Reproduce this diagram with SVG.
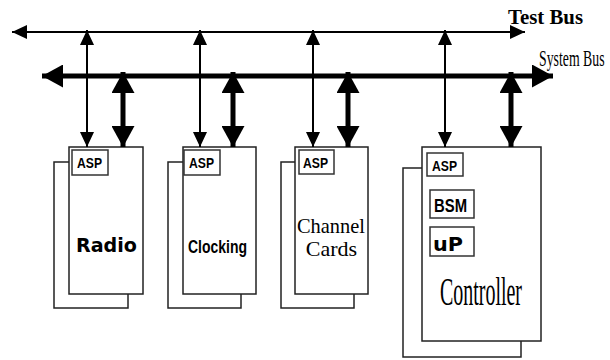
<svg xmlns="http://www.w3.org/2000/svg" width="610" height="360" viewBox="0 0 610 360">
<defs>
<marker id="thin" markerUnits="userSpaceOnUse" viewBox="0 0 15 14" refX="15" refY="7" markerWidth="15" markerHeight="14" orient="auto-start-reverse"><path d="M0,0 L15,7 L0,14 Z" fill="#000"/></marker>
<marker id="thick" markerUnits="userSpaceOnUse" viewBox="0 0 21 23" refX="21" refY="11.5" markerWidth="21" markerHeight="23" orient="auto-start-reverse"><path d="M0,0 L21,11.5 L0,23 Z" fill="#000"/></marker>
<style>
.card{fill:#fff;stroke:#222;stroke-width:1.5}
.box{fill:#fff;stroke:#333;stroke-width:1.5}
.tb{stroke:#000;stroke-width:2;fill:none}
.sb{stroke:#000;stroke-width:5;fill:none}
.asp{font-family:"Liberation Sans",Arial,sans-serif;font-weight:bold;font-size:14px;fill:#000}
.bsm{font-family:"Liberation Sans",Arial,sans-serif;font-weight:bold;font-size:18px;fill:#000}
.lbl{font-family:"DejaVu Sans",sans-serif;font-weight:bold;font-size:19px;fill:#000}
.serif{font-family:"Liberation Serif","Times New Roman",serif;fill:#000}
</style>
</defs>
<g id="buses">
<line class="tb" x1="12" y1="32" x2="525" y2="32" marker-start="url(#thin)" marker-end="url(#thin)"/>
<line class="sb" x1="42" y1="76" x2="553" y2="76" marker-start="url(#thick)" marker-end="url(#thick)"/>
<text class="serif" x="508" y="24" font-size="21" font-weight="bold" textLength="75" lengthAdjust="spacingAndGlyphs">Test Bus</text>
<text class="serif" transform="translate(539,66) scale(0.6,1)" x="0" y="0" font-size="23">System Bus</text>
</g>
<g id="radio">
<rect class="card" x="54" y="162" width="74" height="146"/>
<rect class="card" x="69" y="147" width="74" height="147"/>
<rect class="box" x="72" y="150" width="36" height="25"/>
<text class="asp" x="77" y="168" textLength="25" lengthAdjust="spacingAndGlyphs">ASP</text>
<text class="lbl" x="76" y="252" font-size="20" textLength="61" lengthAdjust="spacingAndGlyphs">Radio</text>
</g>
<g id="clocking">
<rect class="card" x="168" y="162" width="73" height="146"/>
<rect class="card" x="183" y="147" width="73" height="147"/>
<rect class="box" x="184" y="150" width="36" height="25"/>
<text class="asp" x="189" y="168" textLength="25" lengthAdjust="spacingAndGlyphs">ASP</text>
<text class="bsm" x="188" y="253" font-size="20" textLength="59" lengthAdjust="spacingAndGlyphs">Clocking</text>
</g>
<g id="channel">
<rect class="card" x="281" y="162" width="73" height="146"/>
<rect class="card" x="295" y="147" width="73" height="147"/>
<rect class="box" x="299" y="150" width="35" height="24"/>
<text class="asp" x="303" y="168" textLength="25" lengthAdjust="spacingAndGlyphs">ASP</text>
<text class="serif" x="297" y="233" font-size="22" textLength="68" lengthAdjust="spacingAndGlyphs">Channel</text>
<text class="serif" x="331.5" y="256" font-size="22" text-anchor="middle">Cards</text>
</g>
<g id="controller">
<rect class="card" x="403" y="168" width="118" height="189"/>
<rect class="card" x="422" y="147" width="119" height="194"/>
<rect class="box" x="427" y="153" width="36" height="23"/>
<text class="asp" x="432" y="171" textLength="25" lengthAdjust="spacingAndGlyphs">ASP</text>
<rect class="box" x="430" y="190" width="44" height="28"/>
<text class="bsm" x="434" y="212" font-size="18" textLength="33" lengthAdjust="spacingAndGlyphs">BSM</text>
<rect class="box" x="430" y="227" width="44" height="29"/>
<text class="lbl" x="433" y="251" font-size="22" textLength="30" lengthAdjust="spacingAndGlyphs">uP</text>
<text class="serif" x="440" y="305" font-size="40" textLength="82" lengthAdjust="spacingAndGlyphs">Controller</text>
</g>
<g id="connectors">
<line class="tb" x1="87" y1="30" x2="87" y2="147" marker-start="url(#thin)" marker-end="url(#thin)"/>
<line class="tb" x1="200" y1="30" x2="200" y2="147" marker-start="url(#thin)" marker-end="url(#thin)"/>
<line class="tb" x1="313" y1="30" x2="313" y2="147" marker-start="url(#thin)" marker-end="url(#thin)"/>
<line class="tb" x1="445" y1="30" x2="445" y2="147" marker-start="url(#thin)" marker-end="url(#thin)"/>
<line class="sb" x1="123" y1="72" x2="123" y2="147" marker-start="url(#thick)" marker-end="url(#thick)"/>
<line class="sb" x1="233" y1="72" x2="233" y2="147" marker-start="url(#thick)" marker-end="url(#thick)"/>
<line class="sb" x1="348" y1="72" x2="348" y2="147" marker-start="url(#thick)" marker-end="url(#thick)"/>
<line class="sb" x1="511" y1="72" x2="511" y2="147" marker-start="url(#thick)" marker-end="url(#thick)"/>
</g>
</svg>
